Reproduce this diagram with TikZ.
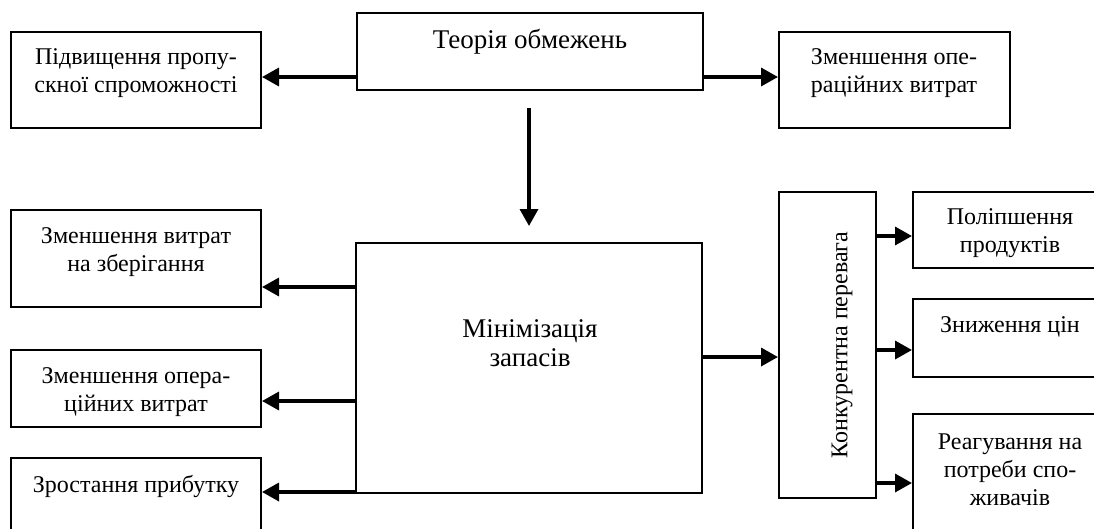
\documentclass[tikz,border=0pt]{standalone}
\usepackage{fontspec}
\setmainfont{Liberation Serif}
\usetikzlibrary{arrows.meta}
\begin{document}
\begin{tikzpicture}[x=1pt,y=-1pt,
  box/.style={draw, line width=2pt, rectangle, inner sep=0pt},
  txt/.style={align=center, inner sep=0pt, font=\fontsize{24}{28}\selectfont},
  bigtxt/.style={align=center, inner sep=0pt, font=\fontsize{27}{29}\selectfont},
  arr/.style={line width=3.4pt, -{Triangle[length=17pt,width=18pt]}}]
\useasboundingbox (0,0) rectangle (1094,528);
\clip (0,0) rectangle (1094,528);
% boxes
\node[box, minimum width=346pt, minimum height=77pt] (tob) at (530,51.5) {};
\node[box, minimum width=250pt, minimum height=96pt] (ppc) at (136,80) {};
\node[box, minimum width=231pt, minimum height=96pt] (zov) at (894.5,80) {};
\node[box, minimum width=250pt, minimum height=97pt] (zvz) at (136,258.5) {};
\node[box, minimum width=250pt, minimum height=77pt] (zovb) at (136,388.5) {};
\node[box, minimum width=250pt, minimum height=102pt] (zp) at (136,509) {};
\node[box, minimum width=346pt, minimum height=250pt] (mz) at (529,368) {};
\node[box, minimum width=97pt, minimum height=306pt] (kp) at (827.5,345) {};
\node[box, minimum width=197pt, minimum height=76pt] (pp) at (1011.5,230) {};
\node[box, minimum width=197pt, minimum height=78pt] (zc) at (1011.5,338) {};
\node[box, minimum width=197pt, minimum height=146pt] (rp) at (1011.5,487) {};
% texts
\node[bigtxt] (ttob) at (530,42) {Теорія обмежень};
\node[txt] (tppc) at (136,73.5) {Підвищення пропу-\\скної спроможності};
\node[txt] (tzov) at (894,73.5) {Зменшення опе-\\раційних витрат};
\node[txt] (tzvz) at (136,252.5) {Зменшення витрат\\на зберігання};
\node[txt] (tzovb) at (136,392.5) {Зменшення опера-\\ційних витрат};
\node[txt] (tzp) at (136,486.5) {Зростання прибутку};
\node[bigtxt] (tmz) at (530,343) {Мінімізація\\запасів};
\node[txt, rotate=90] (tkp) at (842,345) {Конкурентна перевага};
\node[txt] (tpp) at (1010,233) {Поліпшення\\продуктів};
\node[txt] (tzc) at (1010,326.5) {Зниження цін};
\node[txt] (trp) at (1010,469.5) {Реагування на\\потреби спо-\\живачів};
% connectors
\coordinate (dtop) at (529,108);
\coordinate (dbot) at (529,226);
\draw[arr] (tob.west |- 0,77) -- (ppc.east |- 0,77);
\draw[arr] (tob.east |- 0,77) -- (zov.west |- 0,77);
\draw[arr] (dtop) -- (dbot);
\draw[arr] (mz.west |- 0,287) -- (zvz.east |- 0,287);
\draw[arr] (mz.west |- 0,401) -- (zovb.east |- 0,401);
\draw[arr] (mz.west |- 0,492) -- (zp.east |- 0,492);
\draw[arr] (mz.east |- 0,357) -- (kp.west |- 0,357);
\draw[arr] (kp.east |- 0,236) -- (pp.west |- 0,236);
\draw[arr] (kp.east |- 0,350) -- (zc.west |- 0,350);
\draw[arr] (kp.east |- 0,483) -- (rp.west |- 0,483);
\end{tikzpicture}
\end{document}
